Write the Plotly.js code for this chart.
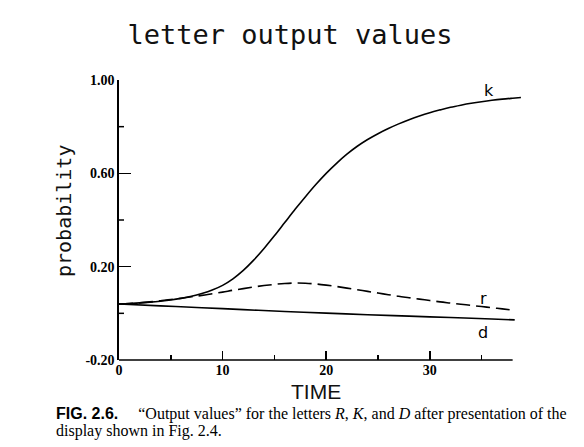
<!DOCTYPE html>
<html>
<head>
<meta charset="utf-8">
<script src="https://cdn.plot.ly/plotly-3.0.1.min.js"></script>
<style>html,body{margin:0;padding:0;background:#fff;}#chart{width:584px;height:447px;}</style>
</head>
<body>
<div id="chart"></div>
<script>
// ---- data ----
const timeK = [0,1,2,3,4,5,6,7,8,9,10,11,12,13,14,15,16,17,18,19,20,21,22,23,24,25,26,27,28,29,30,31,32,33,34,35,36,37,38,38.8];
const valuesK = [0.040,0.042,0.045,0.048,0.052,0.057,0.064,0.073,0.085,0.100,0.120,0.148,0.184,0.228,0.278,0.332,0.389,0.446,0.500,0.552,0.600,0.643,0.682,0.716,0.745,0.770,0.792,0.812,0.830,0.846,0.860,0.872,0.883,0.892,0.900,0.907,0.913,0.918,0.922,0.925];
const timeR = [0,1,2,3,4,5,6,7,8,9,10,11,12,13,14,15,16,17,18,19,20,21,22,23,24,25,26,27,28,29,30,31,32,33,34,35,36,37,38];
const valuesR = [0.040,0.042,0.045,0.049,0.054,0.059,0.065,0.071,0.077,0.084,0.091,0.099,0.106,0.113,0.119,0.124,0.128,0.130,0.129,0.126,0.121,0.115,0.108,0.101,0.094,0.087,0.080,0.073,0.067,0.061,0.055,0.049,0.044,0.039,0.034,0.029,0.024,0.019,0.014];
const timeD = [0,4,8,12,16,20,24,28,32,36,38.2];
const valuesD = [0.040,0.032,0.024,0.016,0.008,0.001,-0.006,-0.012,-0.018,-0.024,-0.028];
const seriesNames = ['k','r','d'];
const xTickVals = [0,10,20,30];
const xTickText = ['0','10','20','30'];
const xMinorVals = [5,15,25,35];
const yTickVals = [-0.2,0.2,0.6,1.0];
const yTickText = ['-0.20','0.20','0.60','1.00'];
const yMinorVals = [0,0.4,0.8];

const lineStyle = {color:'#000', width:1.6};
const traces = [
  {x:timeK, y:valuesK, name:seriesNames[0], mode:'lines', line:Object.assign({}, lineStyle, {shape:'spline'})},
  {x:timeR, y:valuesR, name:seriesNames[1], mode:'lines', line:Object.assign({}, lineStyle, {shape:'spline', dash:'14px,6px'})},
  {x:timeD, y:valuesD, name:seriesNames[2], mode:'lines', line:Object.assign({}, lineStyle, {shape:'spline'})}
];

const tickFont = {family:'Liberation Serif, serif', size:14, color:'#000', weight:'bold'};
const mono = 'DejaVu Sans Mono, monospace';

const minorShapes = yMinorVals.map(v => ({type:'line', xref:'paper', yref:'y', x0:0, x1:5/404, y0:v, y1:v, line:{color:'#000', width:1.5}}));

const layout = {
  width:584, height:447,
  margin:{l:119, r:61, t:80, b:87},
  paper_bgcolor:'#fff', plot_bgcolor:'#fff',
  showlegend:false,
  title:{text:'letter output values', font:{family:mono, size:27, color:'#111'},
         xref:'container', x:290/584, xanchor:'center', yref:'container', y:1-35/447, yanchor:'middle'},
  xaxis:{range:[0,39], showgrid:false, zeroline:false, showline:false,
         tickmode:'array', tickvals:xTickVals, ticktext:xTickText,
         ticks:'inside', ticklen:9, tickwidth:1.5, tickcolor:'#000', tickfont:tickFont,
         minor:{tickmode:'array', tickvals:xMinorVals, ticks:'inside', ticklen:5, tickwidth:1.5, tickcolor:'#000'}},
  yaxis:{range:[-0.2,1.0], showgrid:false, zeroline:false, showline:true, linecolor:'#000', linewidth:1.6,
         tickmode:'array', tickvals:yTickVals, ticktext:yTickText,
         ticks:'inside', ticklen:12, tickwidth:1.5, tickcolor:'#000', tickfont:tickFont},
  shapes:[
    {type:'line', xref:'x', yref:'paper', x0:0, x1:38, y0:0, y1:0, line:{color:'#000', width:1.6}}
  ].concat(minorShapes),
  annotations:[
    {text:'probability', textangle:-90, xref:'paper', yref:'paper', x:(64-119)/404, y:(360-211)/280,
     xanchor:'center', yanchor:'middle', showarrow:false, font:{family:mono, size:20, color:'#111'}},
    {text:'TIME', xref:'paper', yref:'paper', x:(316-119)/404, y:(360-391)/280, borderpad:0,
     xanchor:'center', yanchor:'middle', showarrow:false, font:{family:'Liberation Sans Narrow, Liberation Sans, sans-serif', size:21, color:'#111'}},
    {text:seriesNames[0], x:35.7, y:0.957, xref:'x', yref:'y', showarrow:false, font:{family:'DejaVu Sans, sans-serif', size:16, color:'#000'}},
    {text:seriesNames[1], x:35.2, y:0.062, xref:'x', yref:'y', showarrow:false, font:{family:'DejaVu Sans, sans-serif', size:16, color:'#000'}},
    {text:seriesNames[2], x:35.1, y:-0.08, xref:'x', yref:'y', showarrow:false, font:{family:'DejaVu Sans, sans-serif', size:16, color:'#000'}},
    {text:'<span style="font-family:Liberation Sans;font-weight:bold">FIG. 2.6.</span>&nbsp;&nbsp;&nbsp;&nbsp;&nbsp;\u201cOutput values\u201d for the letters <i>R</i>, <i>K</i>, and <i>D</i> after presentation of the',
     xref:'paper', yref:'paper', x:(55-119)/404, y:(360-414)/280, xanchor:'left', yanchor:'middle', align:'left', borderpad:0,
     showarrow:false, font:{family:'Liberation Serif, serif', size:16, color:'#000'}},
    {text:'display shown in Fig. 2.4.', xref:'paper', yref:'paper', x:(55-119)/404, y:(360-431)/280, borderpad:0,
     xanchor:'left', yanchor:'middle', align:'left', showarrow:false, font:{family:'Liberation Serif, serif', size:16, color:'#000'}}
  ]
};

Plotly.newPlot('chart', traces, layout, {displayModeBar:false, staticPlot:true});
</script>
</body>
</html>
